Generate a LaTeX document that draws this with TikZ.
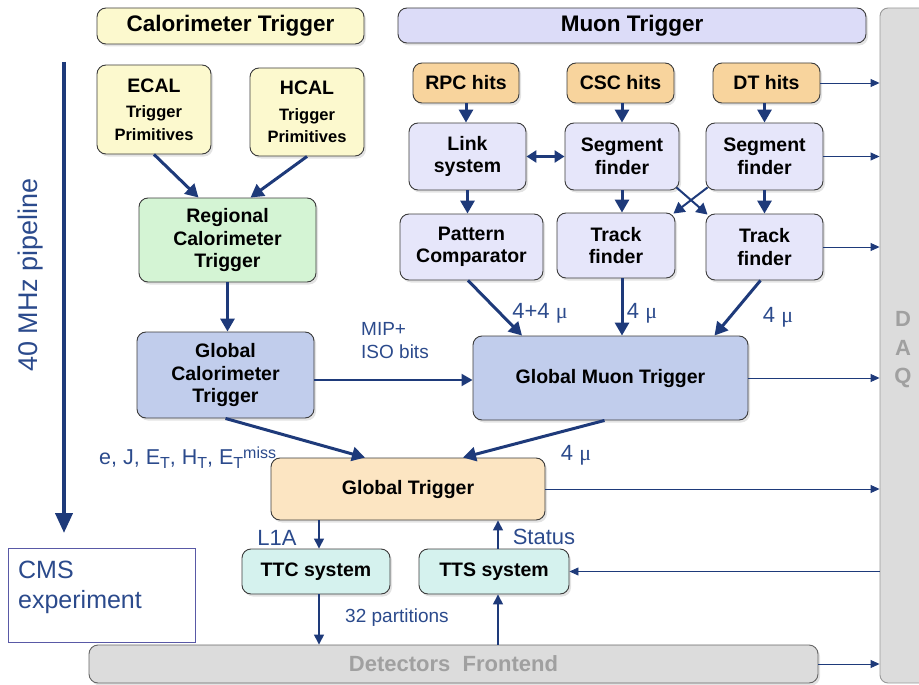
\documentclass[tikz,border=0pt]{standalone}
\usepackage{fontspec}
\setmainfont{Liberation Sans}
\newfontfamily\serifmu{Liberation Serif}
\usetikzlibrary{arrows.meta,shadows,calc}
\definecolor{navy}{HTML}{1E3A7A}
\definecolor{lblblue}{HTML}{2B4A8C}
\definecolor{boxline}{HTML}{3C3C3C}
\definecolor{cyellow}{HTML}{FCF9CE}
\definecolor{cmuon}{HTML}{DCDCF8}
\definecolor{cgreen}{HTML}{D4F4D4}
\definecolor{cblue}{HTML}{C1CDEC}
\definecolor{corange}{HTML}{FCE5C2}
\definecolor{chits}{HTML}{F8D49D}
\definecolor{clav}{HTML}{E6E6FA}
\definecolor{ccyan}{HTML}{D5F2EE}
\definecolor{cgray}{HTML}{DCDCDC}
\definecolor{graytext}{HTML}{A0A0A0}
\newcommand{\mymu}{{\serifmu μ}}
\newcommand{\subT}{\raisebox{-4.5pt}{\fontsize{16}{16}\selectfont T}}
\tikzset{
  box/.style={draw=boxline, line width=0.9pt, rounded corners=9pt, align=center, inner sep=2pt,
    font=\bfseries\fontsize{19.5}{22.5}\selectfont,
    drop shadow={shadow xshift=2pt,shadow yshift=-2.5pt,opacity=0.22}},
  hdr/.style={box, font=\bfseries\fontsize{22.5}{26}\selectfont},
  bigarrow/.style={draw=navy, line width=3pt, -{Triangle[length=13pt,width=14pt]}},
  midarrow/.style={draw=navy, line width=2pt, -{Triangle[length=11pt,width=12pt]}},
  smallarrow/.style={draw=navy, line width=1.4pt, -{Triangle[length=10pt,width=10pt]}},
  thinarrow/.style={draw=navy, line width=0.9pt, -{Triangle[length=9pt,width=8pt]}},
  lbl/.style={text=lblblue, font=\fontsize{19}{23}\selectfont, inner sep=0pt},
  mulbl/.style={lbl, font=\fontsize{22}{24}\selectfont},
}
\begin{document}
\begin{tikzpicture}[x=1pt,y=-1pt]
\useasboundingbox (0,0) rectangle (919,685);
% DAQ bar
\node[draw=gray!80, fill=cgray, rounded corners=8pt, line width=0.9pt, minimum width=60pt, minimum height=675pt, inner sep=0pt] (daq) at (910,345.5) {};
\node[text=graytext, font=\bfseries\fontsize{22}{28.5}\selectfont, align=center, inner sep=0pt] (daqlbl) at (903,350) {D\\A\\Q};

% headers
\node[hdr, fill=cyellow, minimum width=267pt, minimum height=36pt] (calhdr) at (230.5,26) {Calorimeter Trigger};
\node[hdr, fill=cmuon, minimum width=468pt, minimum height=35pt] (muhdr) at (632,25.5) {Muon Trigger};

% calorimeter
\node[box, fill=cyellow, minimum width=114pt, minimum height=89pt] (ecal) at (154,109.5)
  {{\fontsize{19.5}{22}\selectfont ECAL}\\[3pt]{\fontsize{16.5}{21}\selectfont Trigger}\\{\fontsize{16.5}{21}\selectfont Primitives}};
\node[box, fill=cyellow, minimum width=114pt, minimum height=88pt] (hcal) at (307,112)
  {{\fontsize{19.5}{22}\selectfont HCAL}\\[3pt]{\fontsize{16.5}{21}\selectfont Trigger}\\{\fontsize{16.5}{21}\selectfont Primitives}};
\node[box, fill=cgreen, minimum width=177pt, minimum height=84pt] (rct) at (227.5,240) {Regional\\Calorimeter\\Trigger};
\node[box, fill=cblue, minimum width=177pt, minimum height=86pt] (gct) at (225.5,375) {Global\\Calorimeter\\Trigger};
\node[box, fill=corange, minimum width=274pt, minimum height=62pt] (gt) at (408,489) {Global Trigger};

% muon
\node[box, fill=chits, minimum width=106pt, minimum height=40pt] (rpc) at (466,83) {RPC hits};
\node[box, fill=chits, minimum width=107pt, minimum height=40pt] (csc) at (620.5,83) {CSC hits};
\node[box, fill=chits, minimum width=107pt, minimum height=40pt] (dt) at (766.5,83) {DT hits};
\node[box, fill=clav, minimum width=117pt, minimum height=67pt] (link) at (467.5,156.5) {Link\\system};
\node[box, fill=clav, minimum width=114pt, minimum height=67pt] (seg1) at (622,156.5) {Segment\\finder};
\node[box, fill=clav, minimum width=117pt, minimum height=67pt] (seg2) at (764.5,156.5) {Segment\\finder};
\node[box, fill=clav, minimum width=143pt, minimum height=66pt] (pc) at (471.5,247) {Pattern\\Comparator};
\node[box, fill=clav, minimum width=118pt, minimum height=65pt] (tf1) at (616,245.5) {Track\\finder};
\node[box, fill=clav, minimum width=117pt, minimum height=66pt] (tf2) at (764.5,247) {Track\\finder};
\node[box, fill=cblue, minimum width=275pt, minimum height=84pt] (gmt) at (610.5,378) {Global Muon Trigger};

% bottom
\node[box, fill=ccyan, minimum width=148pt, minimum height=45pt] (ttc) at (316,571.5) {TTC system};
\node[box, fill=ccyan, minimum width=150pt, minimum height=45pt] (tts) at (494,571.5) {TTS system};
\node[draw=gray!70!blue, line width=0.8pt, fill=white, minimum width=187pt, minimum height=94pt, inner sep=0pt] (cms) at (101.5,595) {};
\node[lbl, font=\fontsize{25}{30}\selectfont, align=left, anchor=west] (cmstext) at (18,587) {CMS\\experiment};
\node[box, fill=cgray, draw=gray!80!black, minimum width=729pt, minimum height=38pt, text=graytext, font=\bfseries\fontsize{22}{24}\selectfont] (det) at (453.5,664) {Detectors~~Frontend};

% pipeline
\coordinate (pipetop) at (64,62);
\coordinate (pipebot) at (64,533);
\draw[draw=navy, line width=4pt, -{Triangle[length=20pt,width=17pt]}] (pipetop) -- (pipebot);
\node[lbl, font=\fontsize{27}{30}\selectfont, rotate=90] (pipe) at (31,275) {40 MHz pipeline};

% calorimeter arrows
\draw[bigarrow] (ecal.south) -- ([xshift=-29pt]rct.north);
\draw[bigarrow] (hcal.south) -- ([xshift=23pt]rct.north);
\draw[bigarrow] (rct.south) -- (rct.south |- gct.north);
\draw[bigarrow] (gct.south) -- ([xshift=-43pt]gt.north);
\draw[midarrow] (gct.east |- 0,380) -- (gmt.west |- 0,380);

% muon arrows
\draw[bigarrow] (rpc.south) -- (rpc.south |- link.north);
\draw[bigarrow] (csc.south -| seg1) -- (seg1.north);
\draw[bigarrow] (dt.south -| seg2) -- (seg2.north);
\draw[draw=navy, line width=2.5pt, {Triangle[length=10pt,width=12pt]}-{Triangle[length=10pt,width=12pt]}] (link.east) -- (seg1.west);
\draw[bigarrow] (link.south) -- (link.south |- pc.north);
\draw[bigarrow] (seg1.south) -- (seg1.south |- tf1.north);
\draw[bigarrow] (seg2.south) -- (seg2.south |- tf2.north);
\draw[midarrow] ([xshift=-3pt,yshift=3pt]seg1.south east) -- ([xshift=2pt,yshift=-1pt]tf2.north west);
\draw[midarrow] ([xshift=2pt,yshift=3pt]seg2.south west) -- ([xshift=-2pt,yshift=-1pt]tf1.north east);
\draw[bigarrow] ([xshift=-3.5pt]pc.south) -- ([xshift=-88.5pt]gmt.north);
\draw[bigarrow] (tf1.south -| seg1) -- (gmt.north -| seg1);
\draw[bigarrow] ([xshift=-4pt]tf2.south) -- ([xshift=104pt]gmt.north);
\draw[bigarrow] ([xshift=-6pt]gmt.south) -- ([xshift=55pt]gt.north);

% DAQ arrows
\draw[thinarrow] (dt.east) -- (dt.east -| daq.west);
\draw[thinarrow] (seg2.east) -- (seg2.east -| daq.west);
\draw[thinarrow] (tf2.east) -- (tf2.east -| daq.west);
\draw[thinarrow] (gmt.east) -- (gmt.east -| daq.west);
\draw[thinarrow] (gt.east) -- (gt.east -| daq.west);
\draw[thinarrow] (det.east) -- (det.east -| daq.west);
\draw[thinarrow] (tts.east -| daq.west) -- (tts.east);

% bottom arrows
\draw[smallarrow] ([xshift=3pt]ttc.north |- gt.south) -- ([xshift=3pt]ttc.north);
\draw[smallarrow] ([xshift=4pt]tts.north) -- ([xshift=4pt]tts.north |- gt.south);
\draw[smallarrow] ([xshift=3pt]ttc.south) -- ([xshift=3pt]ttc.south |- det.north);
\draw[smallarrow] ([xshift=4pt]tts.south |- det.north) -- ([xshift=4pt]tts.south);

% labels
\node[lbl, align=left, anchor=west] (mip) at (361,341) {MIP+\\ISO bits};
\node[lbl, font=\fontsize{21.5}{23}\selectfont, anchor=west] (ejet) at (99,458) {e, J, E\subT, H\subT, E\subT\raisebox{5.5pt}{\fontsize{16}{16}\selectfont miss}};
\node[mulbl] (l44) at (540,313) {4+4 \mymu};
\node[mulbl] (l4a) at (642,313) {4 \mymu};
\node[mulbl] (l4b) at (778,317) {4 \mymu};
\node[mulbl] (l4c) at (576,455) {4 \mymu};
\node[lbl, font=\fontsize{22}{24}\selectfont] (l1a) at (277,538) {L1A};
\node[lbl, font=\fontsize{22}{24}\selectfont] (status) at (544,537) {Status};
\node[lbl, font=\fontsize{19}{22}\selectfont] (parts) at (397,618) {32 partitions};
\end{tikzpicture}
\end{document}
